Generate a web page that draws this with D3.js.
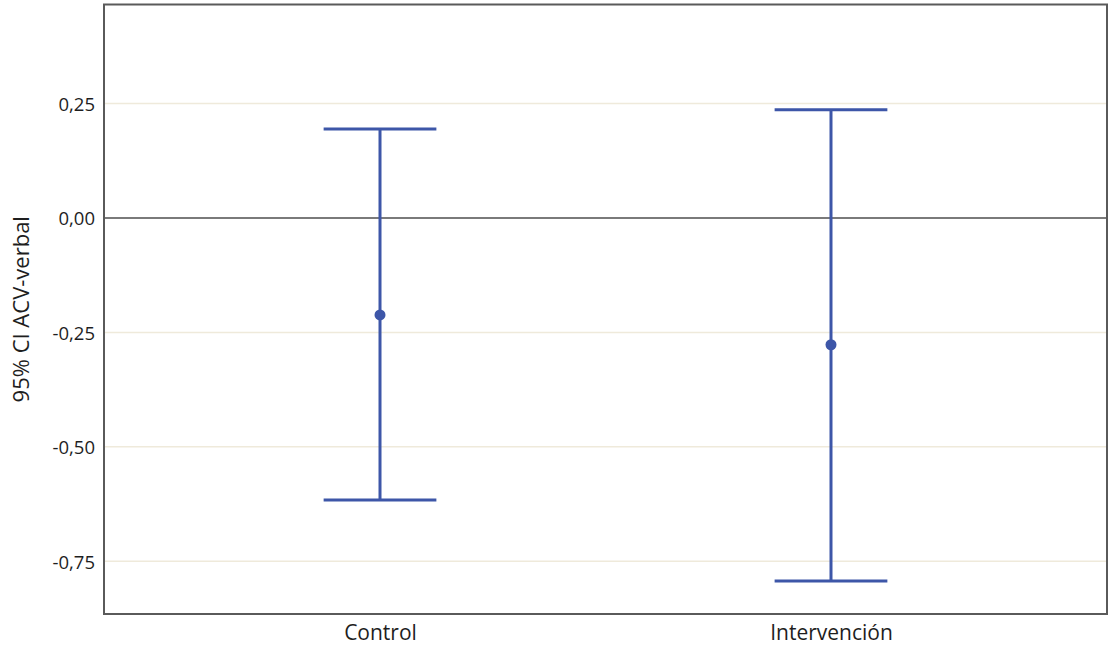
<!DOCTYPE html>
<html>
<head>
<meta charset="utf-8">
<script src="https://cdn.jsdelivr.net/npm/d3@7"></script>
<style>
  html, body { margin: 0; padding: 0; background: #fff; }
  svg { display: block; font-family: "Open Sans", "Noto Sans", sans-serif; }
</style>
</head>
<body>
<svg id="chart" width="1109" height="647"></svg>
<script>
// Groups and their 95% confidence intervals of ACV-verbal
const groups = ["Control", "Intervención"];
const means = [-0.212, -0.277];
const lowerCI = [-0.616, -0.793];
const upperCI = [0.194, 0.236];
const yTicks = [0.25, 0.00, -0.25, -0.50, -0.75];
const yDomain = [-0.865, 0.466];
const yTitle = "95% CI ACV-verbal";

const svg = d3.select("#chart");
const plot = { left: 104, right: 1107, top: 4.5, bottom: 614 };
const blue = "#3d56a8";
const fontFamily = "\"Open Sans\", \"Noto Sans\", sans-serif";

const x = d3.scalePoint().domain(groups).range([plot.left, plot.right]).padding(0.612);
const y = d3.scaleLinear().domain(yDomain).range([plot.bottom, plot.top]);
const capW = x.step() * 0.25;

// Horizontal gridlines
svg.append("g").selectAll("line").data(yTicks).join("line")
  .attr("x1", plot.left).attr("x2", plot.right)
  .attr("y1", d => y(d)).attr("y2", d => y(d))
  .attr("stroke", "#efeadb").attr("stroke-width", 1.5);

// Reference line at zero
svg.append("line")
  .attr("x1", plot.left).attr("x2", plot.right)
  .attr("y1", y(0)).attr("y2", y(0))
  .attr("stroke", "#7a7a7a").attr("stroke-width", 2);

// Y axis tick labels
const fmt = d => d3.format(".2f")(d).replace(".", ",").replace("−", "-");
const yAxis = d3.axisLeft(y).tickValues(yTicks).tickSize(0).tickPadding(9).tickFormat(fmt);
const ya = svg.append("g").attr("transform", `translate(${plot.left},0)`).call(yAxis)
  .attr("font-size", 18.5).attr("font-family", fontFamily);
ya.select(".domain").remove();
ya.selectAll("text").attr("fill", "#1e1e1e").attr("dy", "0.36em");

// X axis category labels
const xAxis = d3.axisBottom(x).tickSize(0).tickPadding(11);
const xa = svg.append("g").attr("transform", `translate(0,${plot.bottom})`).call(xAxis)
  .attr("font-size", 21).attr("font-family", fontFamily);
xa.select(".domain").remove();
xa.selectAll("text").attr("fill", "#1e1e1e");

// Y axis title
svg.append("text")
  .attr("transform", `translate(29,${(plot.top + plot.bottom) / 2}) rotate(-90)`)
  .attr("text-anchor", "middle")
  .attr("font-size", 22).attr("fill", "#1e1e1e")
  .text(yTitle);

// Error bars
const bars = svg.append("g").selectAll("g").data(groups).join("g");
bars.append("line")
  .attr("x1", d => x(d)).attr("x2", d => x(d))
  .attr("y1", (d, i) => y(lowerCI[i])).attr("y2", (d, i) => y(upperCI[i]))
  .attr("stroke", blue).attr("stroke-width", 3);
bars.append("line")
  .attr("x1", d => x(d) - capW / 2).attr("x2", d => x(d) + capW / 2)
  .attr("y1", (d, i) => y(upperCI[i])).attr("y2", (d, i) => y(upperCI[i]))
  .attr("stroke", blue).attr("stroke-width", 3);
bars.append("line")
  .attr("x1", d => x(d) - capW / 2).attr("x2", d => x(d) + capW / 2)
  .attr("y1", (d, i) => y(lowerCI[i])).attr("y2", (d, i) => y(lowerCI[i]))
  .attr("stroke", blue).attr("stroke-width", 3);
bars.append("circle")
  .attr("cx", d => x(d)).attr("cy", (d, i) => y(means[i]))
  .attr("r", 5.5).attr("fill", blue);

// Plot frame
svg.append("rect")
  .attr("x", plot.left).attr("y", plot.top)
  .attr("width", plot.right - plot.left).attr("height", plot.bottom - plot.top)
  .attr("fill", "none").attr("stroke", "#5a5a5a").attr("stroke-width", 2);
</script>
</body>
</html>
